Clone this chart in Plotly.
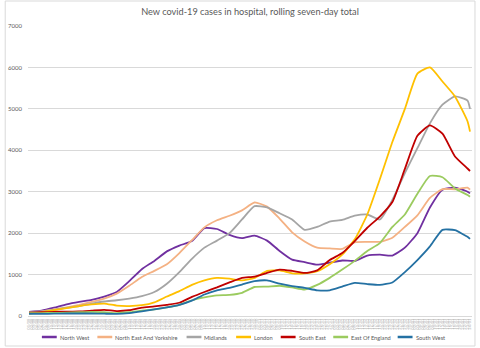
import pandas as pd
import plotly.graph_objects as go

# Sample dates: every five days from 1 Aug 2020, plus the final day
dates = list(pd.date_range("2020-08-01", periods=36, freq="5D")) + [pd.Timestamp("2021-01-24")]

north_west = [100, 130, 200, 280, 340, 390, 470, 580, 840, 1130, 1330, 1560, 1700, 1810,
              2120, 2100, 1960, 1880, 1940, 1820, 1570, 1360, 1300, 1240, 1290, 1340, 1330,
              1460, 1480, 1460, 1650, 2000, 2620, 3050, 3100, 3000, 2960]
north_east_yorks = [90, 110, 160, 210, 270, 340, 420, 540, 730, 940, 1090, 1250, 1520, 1830,
                    2140, 2310, 2420, 2550, 2740, 2640, 2350, 2020, 1800, 1650, 1630, 1620, 1780,
                    1790, 1790, 1890, 2150, 2430, 2850, 3060, 3060, 3100, 3050]
midlands = [100, 110, 150, 200, 240, 300, 350, 380, 420, 480, 580, 780, 1060, 1380,
            1650, 1820, 2000, 2330, 2650, 2620, 2480, 2330, 2080, 2150, 2280, 2320, 2420,
            2450, 2330, 2800, 3450, 4050, 4650, 5100, 5300, 5200, 5000]
london = [60, 90, 140, 190, 240, 280, 300, 250, 240, 260, 330, 470, 600, 750,
          860, 920, 900, 860, 920, 1090, 1100, 1030, 1030, 1080, 1250, 1480, 1850,
          2450, 3300, 4200, 5000, 5850, 6000, 5660, 5300, 4700, 4450]
south_east = [80, 90, 100, 105, 110, 130, 150, 120, 140, 200, 230, 270, 320, 460,
              580, 690, 810, 920, 950, 1040, 1120, 1090, 1040, 1100, 1350, 1520, 1810,
              2130, 2400, 2750, 3550, 4350, 4600, 4400, 3850, 3560, 3500]
east_of_england = [70, 70, 75, 80, 90, 100, 90, 70, 90, 130, 160, 210, 270, 380,
                   450, 500, 510, 560, 700, 710, 730, 690, 640, 750, 920, 1120, 1330,
                   1570, 1760, 2150, 2450, 2950, 3380, 3350, 3080, 2920, 2880]
south_west = [50, 50, 55, 60, 60, 60, 55, 50, 70, 110, 160, 210, 270, 370,
              520, 620, 680, 760, 840, 860, 780, 720, 680, 620, 620, 710, 800,
              770, 750, 810, 1060, 1350, 1680, 2080, 2070, 1910, 1860]

region_names = ["North West", "North East And Yorkshire", "Midlands", "London",
                "South East", "East Of England", "South West"]
region_values = [north_west, north_east_yorks, midlands, london,
                 south_east, east_of_england, south_west]
region_colors = ["#7030A0", "#F4B183", "#A5A5A5", "#FFC000",
                 "#C00000", "#9BCB5F", "#2471A3"]

y_ticks = [0, 1000, 2000, 3000, 4000, 5000, 6000, 7000]

W, H = 480, 348
ML, MR, MT, MB = 24, 8, 26, 32
PW, PH = W - ML - MR, H - MT - MB


def px_x(px):
    return (px - ML) / PW


def px_y(py):
    return (H - MB - py) / PH


fig = go.Figure()
for name, vals, col in zip(region_names, region_values, region_colors):
    fig.add_trace(go.Scatter(x=dates, y=vals, name=name, mode="lines",
                             line=dict(color=col, width=1.8, shape="spline", smoothing=0.5),
                             showlegend=False))

# Legend row drawn beneath the axis: key line followed by its label
legend_text_x = [54, 110, 200, 250, 295, 348, 413]
shapes = []
annotations = []
ly = px_y(337)
for name, col, tx in zip(region_names, region_colors, legend_text_x):
    shapes.append(dict(type="line", xref="paper", yref="paper",
                       x0=px_x(tx - 16), x1=px_x(tx - 1), y0=ly, y1=ly,
                       line=dict(color=col, width=2.5)))
    annotations.append(dict(text=name, xref="paper", yref="paper",
                            x=px_x(tx), y=ly, xanchor="left", yanchor="middle",
                            showarrow=False, font=dict(size=5.7, color="#595959")))

# Chart-area border
shapes.append(dict(type="rect", xref="paper", yref="paper",
                   x0=px_x(1), x1=px_x(475), y0=px_y(346), y1=px_y(1),
                   line=dict(color="#D9D9D9", width=1), fillcolor="rgba(0,0,0,0)"))

fig.update_layout(
    width=W, height=H,
    margin=dict(l=ML, r=MR, t=MT, b=MB),
    paper_bgcolor="white", plot_bgcolor="white",
    font=dict(family="Lato, sans-serif", color="#595959"),
    title=dict(text="New covid-19 cases in hospital, rolling seven-day total",
               x=0.5, xref="paper", xanchor="center",
               y=1 - 12 / H, yref="container", yanchor="middle",
               font=dict(size=9.2, color="#595959")),
    shapes=shapes,
    annotations=annotations,
)

fig.update_xaxes(
    type="date",
    range=["2020-07-31 14:00", "2021-01-24 19:00"],
    tickmode="linear", tick0="2020-08-01", dtick=86400000,
    tickformat="%d/%m", tickangle=-90,
    tickfont=dict(size=4, color="#B4B4B4"),
    showgrid=False, showline=True, linecolor="#D9D9D9", linewidth=1,
    ticks="", zeroline=False,
)
fig.update_yaxes(
    range=[0, 7000], tickmode="array", tickvals=y_ticks,
    ticktext=[str(v) for v in y_ticks],
    tickfont=dict(size=6, color="#595959"),
    showgrid=True, gridcolor="#D9D9D9", gridwidth=1,
    zeroline=False, showline=False, ticks="", ticklabelstandoff=5,
)

fig.write_html("out.html")
